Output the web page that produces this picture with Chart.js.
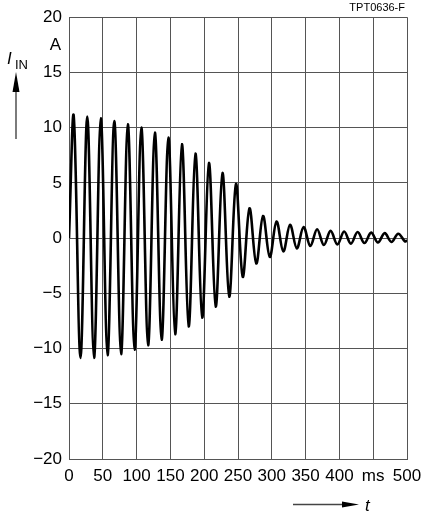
<!DOCTYPE html>
<html>
<head>
<meta charset="utf-8">
<script src="https://cdn.jsdelivr.net/npm/chart.js@4/dist/chart.umd.min.js"></script>
<style>
  html, body { margin: 0; padding: 0; background: #fff; }
  #wrap { width: 426px; height: 517px; position: relative; }
</style>
</head>
<body>
<div id="wrap"><canvas id="inrush"></canvas></div>
<script>
// time of each turning point of the current (ms)
const timeMs = [0,
  7, 17, 27, 37, 47, 57, 67, 77, 87, 97,
  107, 117, 127, 137, 147, 157, 167, 177, 187, 197,
  207, 217, 227, 237, 247, 257, 267, 277, 287, 297,
  307, 317, 327, 337, 347, 357, 367, 377, 387, 397,
  407, 417, 427, 437, 447, 457, 467, 477, 487, 497,
  500];

// inrush current at those points (A)
const currentA = [0,
  11.05, -10.85, 11.0, -10.85, 10.85, -10.6, 10.6, -10.5, 10.3, -10.1,
  10.0, -9.7, 9.55, -9.2, 9.1, -8.7, 8.5, -8.0, 7.65, -7.2,
  6.8, -6.2, 5.9, -5.3, 4.9, -3.5, 2.7, -2.3, 2.0, -1.7,
  1.5, -1.2, 1.2, -0.93, 1.0, -0.72, 0.8, -0.63, 0.65, -0.57,
  0.6, -0.5, 0.55, -0.45, 0.5, -0.4, 0.45, -0.35, 0.4, -0.3,
  -0.2];

const xTicks = [0, 50, 100, 150, 200, 250, 300, 350, 400, 450, 500];
const xTickLabels = ['0', '50', '100', '150', '200', '250', '300', '350', '400', 'ms', '500'];
const yTicks = [-20, -15, -10, -5, 0, 5, 10, 15, 20];
const yTickLabels = ['\u221220', '\u221215', '\u221210', '\u22125', '0', '5', '10', '15', '20'];

const tickFont = { family: "'Liberation Sans Narrow', 'Liberation Sans', Arial, sans-serif", size: 17 };
const gridColor = '#555';

const points = timeMs.map((t, i) => ({ x: t, y: currentA[i] }));

// labels and arrows around the plot
const decorations = {
  id: 'decorations',
  afterDraw(chart) {
    const ctx = chart.ctx;
    const area = chart.chartArea;
    const yScale = chart.scales.y;
    ctx.save();
    ctx.fillStyle = '#000';

    // unit "A" under 20
    ctx.font = "17px 'Liberation Sans Narrow', 'Liberation Sans', Arial";
    ctx.textAlign = 'right';
    ctx.textBaseline = 'middle';
    ctx.fillText('A', area.left - 8, yScale.getPixelForValue(17.5));

    // I_IN
    ctx.textAlign = 'left';
    ctx.textBaseline = 'alphabetic';
    ctx.font = "italic 17px 'Liberation Sans', Arial";
    ctx.fillText('I', 7, 64);
    ctx.font = "13px 'Liberation Sans Narrow', 'Liberation Sans', Arial";
    ctx.fillText('IN', 15, 69);

    // up arrow
    ctx.strokeStyle = '#444';
    ctx.lineWidth = 1.4;
    ctx.beginPath();
    ctx.moveTo(16, 139);
    ctx.lineTo(16, 88);
    ctx.stroke();
    ctx.beginPath();
    ctx.moveTo(16, 72);
    ctx.lineTo(19.5, 92);
    ctx.lineTo(12.5, 92);
    ctx.closePath();
    ctx.fill();

    // right arrow + t
    ctx.beginPath();
    ctx.moveTo(293, 504.5);
    ctx.lineTo(348, 504.5);
    ctx.stroke();
    ctx.beginPath();
    ctx.moveTo(359, 504.5);
    ctx.lineTo(342, 501.5);
    ctx.lineTo(342, 507.5);
    ctx.closePath();
    ctx.fill();
    ctx.font = "italic 17px 'Liberation Sans', Arial";
    ctx.fillText('t', 365, 511);

    // figure id
    ctx.font = "11px 'Liberation Sans Narrow', 'Liberation Sans', Arial";
    ctx.textAlign = 'right';
    ctx.fillText('TPT0636-F', 405, 11);
    ctx.restore();
  }
};

new Chart(document.getElementById('inrush'), {
  type: 'line',
  data: {
    datasets: [{
      data: points,
      borderColor: '#000',
      borderWidth: 2.6,
      pointRadius: 0,
      tension: 0.36,
      fill: false
    }]
  },
  options: {
    responsive: true,
    maintainAspectRatio: false,
    animation: false,
    layout: { padding: { top: 15, right: 19, bottom: 28, left: 0 } },
    plugins: {
      legend: { display: false },
      tooltip: { enabled: false }
    },
    scales: {
      x: {
        type: 'linear',
        min: 0,
        max: 500,
        afterBuildTicks: s => { s.ticks = xTicks.map(v => ({ value: v })); },
        afterFit: s => {
          s.height = 30;
          s.paddingLeft = 0;
          s.paddingRight = 0;
        },
        ticks: {
          autoSkip: false,
          maxRotation: 0,
          padding: 7,
          color: '#000',
          font: tickFont,
          callback: v => xTickLabels[xTicks.indexOf(v)]
        },
        grid: { color: gridColor, lineWidth: 1, drawTicks: false },
        border: { color: gridColor }
      },
      y: {
        min: -20,
        max: 20,
        afterBuildTicks: s => { s.ticks = yTicks.map(v => ({ value: v })); },
        afterFit: s => { s.width = 69; },
        ticks: {
          autoSkip: false,
          padding: 7,
          color: '#000',
          font: tickFont,
          callback: v => yTickLabels[yTicks.indexOf(v)]
        },
        grid: { color: gridColor, lineWidth: 1, drawTicks: false },
        border: { color: gridColor }
      }
    }
  },
  plugins: [decorations]
});
</script>
</body>
</html>
